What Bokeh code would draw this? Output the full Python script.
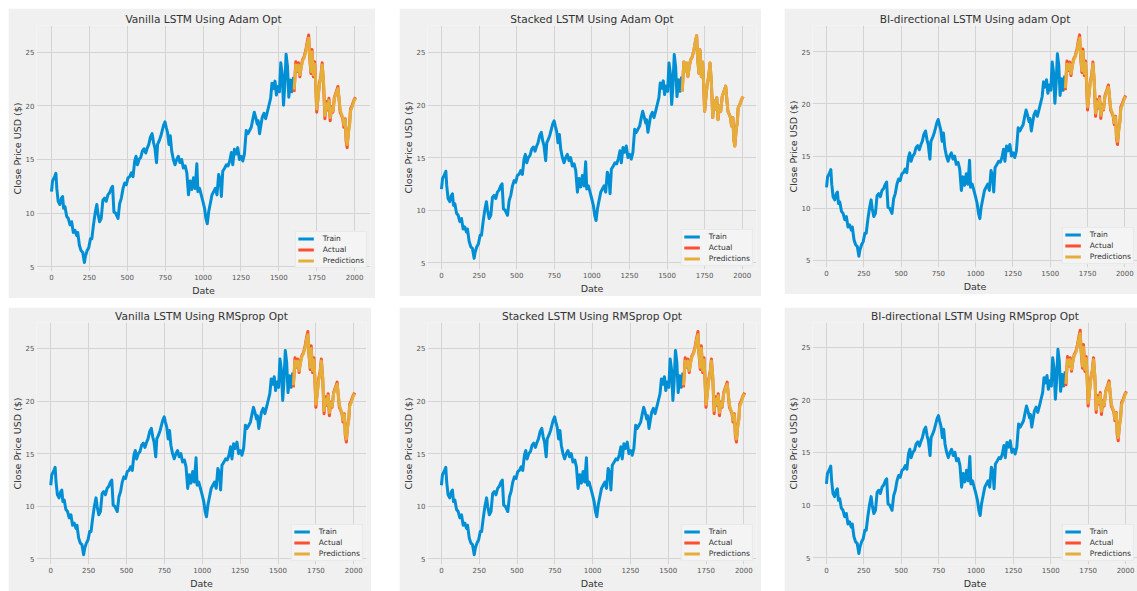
from bokeh.plotting import figure
from bokeh.layouts import row, column, Spacer
from bokeh.models import Legend, LegendItem, Range1d, FixedTicker
from bokeh.embed import file_html
from bokeh.resources import INLINE

# ---------------- data ----------------
train_t = [0, 7, 18, 29, 35, 44, 55, 66, 73, 80,
           89, 100, 111, 122, 133, 144, 155, 166, 173, 184,
           195, 206, 217, 224, 235, 246, 257, 266, 277, 288,
           299, 306, 317, 328, 339, 350, 361, 372, 383, 394,
           403, 412, 423, 439, 450, 461, 472, 483, 494, 505,
           516, 527, 538, 549, 558, 567, 578, 589, 600, 611,
           622, 633, 642, 653, 664, 673, 682, 693, 700, 711,
           722, 731, 740, 749, 757, 766, 775, 784, 793, 804,
           815, 826, 837, 848, 859, 870, 882, 893, 904, 915,
           926, 937, 948, 959, 966, 977, 988, 999, 1010, 1019,
           1028, 1037, 1048, 1059, 1070, 1081, 1092, 1103, 1114, 1121,
           1130, 1143, 1154, 1165, 1176, 1187, 1196, 1207, 1218, 1229,
           1240, 1251, 1262, 1273, 1285, 1296, 1307, 1318, 1329, 1338,
           1347, 1358, 1364, 1373, 1382, 1391, 1402, 1413, 1424, 1435,
           1446, 1455, 1464, 1475, 1484, 1493, 1504, 1513, 1522, 1531,
           1539, 1548, 1557, 1566, 1577, 1586, 1597]
train_v = [12.0, 13.0, 13.3, 13.7, 12.3, 11.1, 10.8, 11.4, 11.55, 10.45,
           10.6, 9.7, 9.5, 8.9, 9.2, 8.2, 8.4, 7.9, 8.2, 7.0,
           6.5, 6.35, 5.4, 6.0, 6.5, 6.8, 7.6, 7.6, 8.9, 10.0,
           10.8, 10.0, 9.2, 9.5, 11.2, 11.4, 11.1, 11.7, 11.9, 12.3,
           12.5, 10.1, 10.0, 9.5, 10.9, 11.4, 12.3, 12.8, 12.65, 13.3,
           13.4, 13.75, 13.4, 14.85, 15.3, 14.5, 15.0, 15.2, 15.8, 16.0,
           15.6, 16.1, 16.4, 17.1, 17.4, 16.6, 16.1, 14.7, 16.4, 16.75,
           17.2, 17.7, 18.2, 18.5, 18.0, 17.5, 16.4, 17.2, 15.8, 15.0,
           14.5, 15.0, 15.3, 14.7, 15.0, 14.2, 14.4, 13.75, 11.7, 13.0,
           12.2, 13.3, 12.3, 14.6, 12.0, 12.3, 11.7, 11.1, 10.45, 9.5,
           9.0, 10.1, 10.9, 11.7, 12.0, 12.3, 11.7, 13.6, 13.1, 11.55,
           13.9, 14.2, 14.5, 14.4, 14.85, 15.65, 14.5, 15.95, 15.5, 16.1,
           15.0, 15.3, 14.85, 15.5, 17.7, 17.4, 17.7, 18.0, 18.8, 19.4,
           18.95, 18.3, 18.6, 17.4, 18.2, 18.95, 19.3, 18.8, 19.4, 20.05,
           20.7, 22.1, 21.6, 22.3, 21.0, 21.8, 21.3, 24.0, 23.0, 20.05,
           21.8, 24.8, 23.7, 20.8, 22.4, 21.3, 22.7]

test_t = [1601, 1612, 1621, 1630, 1639, 1648, 1657, 1668, 1679, 1688,
          1697, 1703, 1712, 1719, 1728, 1737, 1743, 1750, 1759, 1768,
          1777, 1786, 1795, 1804, 1813, 1822, 1831, 1839, 1848, 1857,
          1867, 1879, 1890, 1896, 1905, 1914, 1922, 1929, 1938, 1944,
          1951, 1960, 1967, 1973, 1984, 1995, 2006]
actual_v = [21.3, 24.1, 23.2, 24.0, 22.7, 23.7, 24.3, 24.6, 25.25, 26.0,
            26.6, 24.6, 23.0, 25.25, 22.7, 24.1, 22.1, 19.4, 20.8, 22.1,
            22.7, 24.0, 22.1, 18.8, 20.4, 19.6, 20.7, 18.6, 19.9, 19.4,
            20.8, 21.3, 21.8, 20.8, 19.4, 19.1, 18.8, 18.0, 18.8, 16.7,
            16.1, 17.7, 18.3, 19.7, 20.05, 20.5, 20.8]
pred_lag_v = [21.5, 23.8, 23.3, 23.8, 22.9, 23.6, 24.2, 24.5, 25.1, 25.8,
              26.3, 24.8, 23.2, 25.0, 22.9, 23.9, 22.3, 19.7, 20.7, 21.9,
              22.6, 23.8, 22.3, 19.1, 20.2, 19.7, 20.5, 18.9, 19.8, 19.5,
              20.7, 21.2, 21.6, 20.9, 19.6, 19.2, 18.9, 18.2, 18.7, 16.9,
              16.4, 17.5, 18.2, 19.5, 19.9, 20.4, 20.7]
pred_close_v = [21.3, 24.1, 23.2, 24.0, 22.7, 23.7, 24.3, 24.6, 25.25, 26.0,
                26.6, 24.6, 23.0, 25.25, 22.7, 24.1, 22.1, 19.4, 20.8, 22.1,
                22.7, 24.0, 22.1, 18.8, 20.4, 19.6, 20.7, 18.6, 19.9, 19.4,
                20.8, 21.3, 21.8, 20.8, 19.4, 19.1, 18.8, 18.0, 18.8, 16.7,
                16.1, 17.7, 18.3, 19.7, 20.05, 20.5, 20.8]

titles = ["Vanilla LSTM Using Adam Opt", "Stacked LSTM Using Adam Opt", "BI-directional LSTM Using adam Opt",
          "Vanilla LSTM Using RMSprop Opt", "Stacked LSTM Using RMSprop Opt", "BI-directional LSTM Using RMSprop Opt"]
x_ticks = [0, 250, 500, 750, 1000, 1250, 1500, 1750, 2000]
y_ticks = [5, 10, 15, 20, 25]
legend_labels = ["Train", "Actual", "Predictions"]

BG = "#f0f0f0"
BLUE, RED, YEL = "#008fd5", "#fc4f30", "#e5ae38"
FONT = "DejaVu Sans"

# (width, height, left, right, top, bottom, title standoff), x range, y range
layouts = [
    ((367, 290, 27, 5, 17, 26, 2), (-99, 2105), (4.56, 27.48)),
    ((362, 288, 27, 5, 17, 24, 2), (-93, 2095), (4.34, 27.57)),
    ((353, 286, 27, 0, 16, 24, 2), (-94, 2085), (4.32, 27.50)),
    ((363, 284, 27, 5, 15, 23, 1), (-94, 2084), (4.47, 27.46)),
    ((362, 284, 27, 5, 15, 23, 1), (-92, 2084), (4.47, 27.46)),
    ((353, 284, 27, 0, 15, 23, 1), (-93, 2080), (4.35, 27.34)),
]
preds = [pred_lag_v, pred_close_v, pred_lag_v, pred_lag_v, pred_lag_v, pred_lag_v]


def make_panel(title, lay, xr, yr, pred):
    w, h, bl, br, bt, bb, ts = lay
    p = figure(width=w, height=h, output_backend="svg", toolbar_location=None,
               x_range=Range1d(*xr), y_range=Range1d(*yr), title=title,
               min_border_left=bl, min_border_right=br, min_border_top=bt, min_border_bottom=bb)
    p.background_fill_color = BG
    p.border_fill_color = BG
    p.outline_line_color = None
    p.title.align = "center"
    p.title.text_font = FONT
    p.title.text_font_size = "10.6px"
    p.title.text_font_style = "normal"
    p.title.text_color = "#333333"
    p.title.standoff = ts
    for ax in (p.xaxis[0], p.yaxis[0]):
        ax.axis_line_color = None
        ax.major_tick_line_color = None
        ax.minor_tick_line_color = None
        ax.major_tick_out = 0
        ax.major_tick_in = 0
        ax.minor_tick_out = 0
        ax.minor_tick_in = 0
        ax.major_label_text_font = FONT
        ax.major_label_text_font_size = "7px"
        ax.major_label_text_color = "#555555"
        ax.axis_label_text_font = FONT
        ax.axis_label_text_font_size = "9.5px"
        ax.axis_label_text_font_style = "normal"
        ax.axis_label_text_color = "#333333"
    p.xaxis.major_label_standoff = 2
    p.xaxis.axis_label_standoff = 2
    p.yaxis.major_label_standoff = 2
    p.yaxis.axis_label_standoff = 0
    p.xaxis.ticker = FixedTicker(ticks=x_ticks)
    p.yaxis.ticker = FixedTicker(ticks=y_ticks)
    p.xaxis.axis_label = "Date"
    p.yaxis.axis_label = "Close Price USD ($)"
    p.xgrid.grid_line_color = "#d4d4d4"
    p.ygrid.grid_line_color = "#d4d4d4"

    r1 = p.line(train_t, train_v, line_color=BLUE, line_width=3, line_join="round")
    r2 = p.line(test_t, actual_v, line_color=RED, line_width=3, line_join="round")
    r3 = p.line(test_t, pred, line_color=YEL, line_width=3, line_join="round")
    leg = Legend(items=[LegendItem(label=legend_labels[0], renderers=[r1]),
                        LegendItem(label=legend_labels[1], renderers=[r2]),
                        LegendItem(label=legend_labels[2], renderers=[r3])],
                 location="bottom_right")
    leg.label_text_font = FONT
    leg.label_text_font_size = "7.5px"
    leg.label_text_color = "#333333"
    leg.glyph_width = 16
    leg.glyph_height = 9
    leg.label_height = 9
    leg.label_standoff = 9
    leg.spacing = 2
    leg.padding = 2
    leg.margin = 3
    leg.background_fill_color = "#f4f4f4"
    leg.background_fill_alpha = 1.0
    leg.border_line_color = "#dddddd"
    leg.border_line_width = 1
    p.add_layout(leg)
    return p


figs = [make_panel(titles[i], layouts[i][0], layouts[i][1], layouts[i][2], preds[i]) for i in range(6)]

top = row(Spacer(width=8, height=10), figs[0], Spacer(width=24, height=10), figs[1],
          Spacer(width=23, height=10), figs[2])
bottom = row(Spacer(width=8, height=10), figs[3], Spacer(width=28, height=10), figs[4],
             Spacer(width=23, height=10), figs[5])
page = column(Spacer(width=10, height=8), top, Spacer(width=10, height=9), bottom)

open("out.html", "w").write(file_html(page, INLINE))
